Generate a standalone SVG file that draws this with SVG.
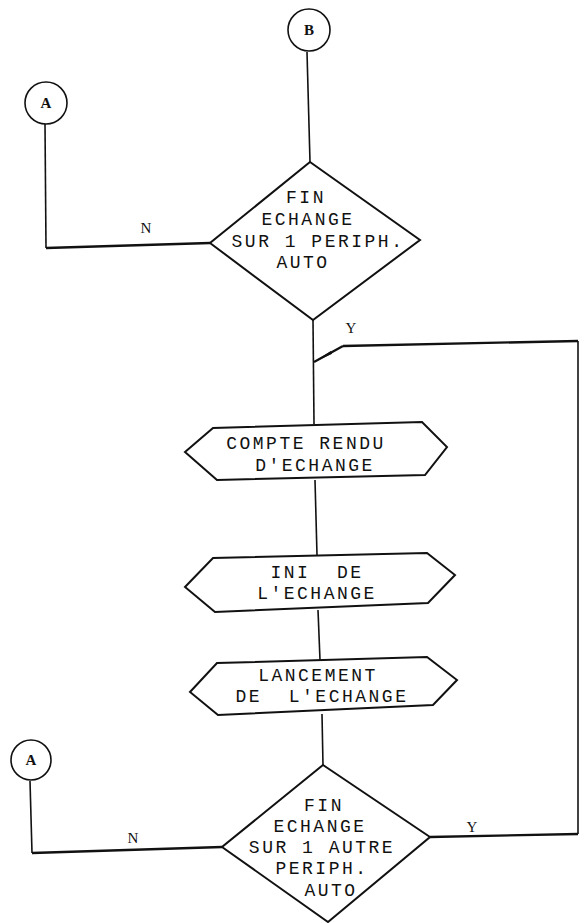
<svg xmlns="http://www.w3.org/2000/svg" width="584" height="923" viewBox="0 0 584 923">
<defs>
<style>
.shape{fill:none;stroke:#111;stroke-width:2;stroke-linejoin:miter}
.conn{fill:none;stroke:#111;stroke-width:1.6}
.hconn{fill:none;stroke:#111;stroke-width:2.3}
.t{font-family:"Liberation Mono","DejaVu Sans Mono",monospace;font-size:18px;letter-spacing:2.5px;fill:#111;text-anchor:middle;white-space:pre}
.lbl{font-family:"Liberation Serif","DejaVu Serif",serif;font-size:15px;fill:#111;text-anchor:middle}
.cl{font-family:"Liberation Serif","DejaVu Serif",serif;font-size:15px;font-weight:bold;fill:#111;text-anchor:middle}
</style>
<marker id="arr" viewBox="0 0 20 6" refX="20" refY="3" markerWidth="20" markerHeight="6" markerUnits="userSpaceOnUse" orient="auto">
<path d="M0,1.5 L20,3 L0,4.5 Z" fill="#111"/>
</marker>
</defs>
<rect width="584" height="923" fill="#fff"/>
<g id="connectors">
<path class="conn" d="M307,52 L310,162"/>
<path class="conn" d="M45,124 L46,248"/>
<path class="hconn" d="M46,248 L210,243"/>
<path class="conn" d="M313,320 L314,424"/>
<path class="conn" d="M315,480 L317,555"/>
<path class="conn" d="M318,610 L320,660"/>
<path class="conn" d="M322,714 L323,765"/>
<path class="conn" d="M30,781 L32,853"/>
<path class="hconn" d="M32,853 L222,847"/>
<path class="hconn" d="M430,837 L578,834"/>
<path class="conn" d="M578,834 L578,341"/>
<path class="hconn" d="M578,341 L343,346"/>
<path class="hconn" d="M343,346 L314,362" marker-end="url(#arr)"/>
<text class="lbl" x="146" y="233">N</text>
<text class="lbl" x="351" y="333">Y</text>
<text class="lbl" x="133" y="843">N</text>
<text class="lbl" x="472" y="832">Y</text>
</g>
<g id="connB">
<circle class="conn" cx="309" cy="30" r="21"/>
<text class="cl" x="309" y="35">B</text>
</g>
<g id="connA1">
<circle class="conn" cx="46" cy="103" r="21"/>
<text class="cl" x="46" y="108">A</text>
</g>
<g id="dec1">
<polygon class="shape" points="310,162 420,240 313,320 210,243"/>
<text class="t" x="306" y="203">FIN</text>
<text class="t" x="308" y="225">ECHANGE</text>
<text class="t" x="318" y="247">SUR 1 PERIPH.</text>
<text class="t" x="303" y="268">AUTO</text>
</g>
<g id="compte">
<polygon class="shape" points="185,452 213,428 422,422 447,447 425,475 217,480"/>
<text class="t" x="306" y="449">COMPTE RENDU</text>
<text class="t" x="315" y="471">D'ECHANGE</text>
</g>
<g id="ini">
<polygon class="shape" points="185,587 213,558 427,553 455,575 428,603 215,612"/>
<text class="t" x="317" y="578">INI  DE</text>
<text class="t" x="317" y="599">L'ECHANGE</text>
</g>
<g id="lancement">
<polygon class="shape" points="190,692 217,663 427,657 457,680 433,705 218,715"/>
<text class="t" x="318" y="681">LANCEMENT</text>
<text class="t" x="322" y="702">DE  L'ECHANGE</text>
</g>
<g id="connA2">
<circle class="conn" cx="31" cy="760" r="20"/>
<text class="cl" x="31" y="765">A</text>
</g>
<g id="dec2">
<polygon class="shape" points="323,765 430,837 328,922 222,847"/>
<text class="t" x="324" y="811">FIN</text>
<text class="t" x="320" y="832">ECHANGE</text>
<text class="t" x="322" y="853">SUR 1 AUTRE</text>
<text class="t" x="322" y="874">PERIPH.</text>
<text class="t" x="331" y="896">AUTO</text>
</g>
</svg>
